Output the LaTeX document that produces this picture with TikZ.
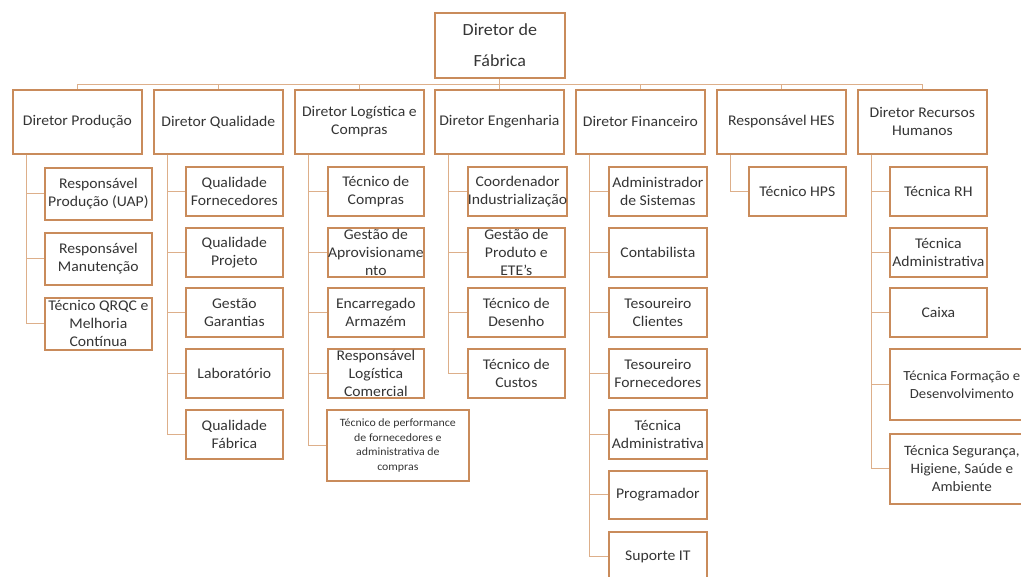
\documentclass[tikz,border=0pt]{standalone}
\usepackage{fontspec}
\setmainfont{Carlito}[FakeStretch=1.06]
\usetikzlibrary{calc}
\definecolor{boxline}{HTML}{C98B5B}
\definecolor{linkline}{HTML}{DDAF8A}
\definecolor{ink}{HTML}{353535}
\begin{document}
\begin{tikzpicture}[x=1pt,y=-1pt,
  box/.style={draw=boxline, line width=1.7pt, fill=white, text=ink, align=center,
    inner sep=0pt, anchor=north west, font=\fontsize{14.8}{18}\selectfont},
  head/.style={box, minimum width=129pt, minimum height=64pt},
  link/.style={draw=linkline, line width=1.2pt},
]
\useasboundingbox (0,0) rectangle (1021,577);
\clip (0,0) rectangle (1021,577);

% top of the hierarchy
\node[box, minimum width=130pt, minimum height=65pt, font=\fontsize{17}{20.5}\selectfont]
  (top) at (434,12) {Diretor de\\[11pt]Fábrica};

% directors
\node[head] (p1) at (12,89)  {Diretor Produção};
\node[head] (p2) at (153,89) {Diretor Qualidade};
\node[head] (p3) at (294,89) {Diretor Logística e\\Compras};
\node[head] (p4) at (434,89) {Diretor Engenharia};
\node[head] (p5) at (575,89) {Diretor Financeiro};
\node[head] (p6) at (716,89) {Responsável HES};
\node[head] (p7) at (857,89) {Diretor Recursos\\Humanos};

% production
\node[box, minimum width=107pt, minimum height=52pt] (a1) at (44,167) {Responsável\\Produção (UAP)};
\node[box, minimum width=107pt, minimum height=52pt] (a2) at (44,232) {Responsável\\Manutenção};
\node[box, minimum width=107pt, minimum height=52pt] (a3) at (44,297) {Técnico QRQC e\\Melhoria\\Contínua};

% quality
\node[box, minimum width=97pt, minimum height=49pt] (b1) at (185,166) {Qualidade\\Fornecedores};
\node[box, minimum width=97pt, minimum height=49pt] (b2) at (185,227) {Qualidade\\Projeto};
\node[box, minimum width=97pt, minimum height=49pt] (b3) at (185,287) {Gestão\\Garantias};
\node[box, minimum width=97pt, minimum height=49pt] (b4) at (185,348) {Laboratório};
\node[box, minimum width=97pt, minimum height=49pt] (b5) at (185,409) {Qualidade\\Fábrica};

% logistics and purchasing
\node[box, minimum width=96pt, minimum height=49pt] (c1) at (327,166) {Técnico de\\Compras};
\node[box, minimum width=96pt, minimum height=49pt] (c2) at (327,227) {Gestão de\\Aprovisioname\\nto};
\node[box, minimum width=96pt, minimum height=49pt] (c3) at (327,287) {Encarregado\\Armazém};
\node[box, minimum width=96pt, minimum height=49pt] (c4) at (327,348) {Responsável\\Logística\\Comercial};
\node[box, minimum width=142pt, minimum height=71pt, font=\fontsize{11.2}{14.6}\selectfont]
  (c5) at (326,409) {Técnico de performance\\de fornecedores e\\administrativa de\\compras};

% engineering
\node[box, minimum width=97pt, minimum height=49pt] (d1) at (467,166) {Coordenador\\Industrialização};
\node[box, minimum width=97pt, minimum height=49pt] (d2) at (467,227) {Gestão de\\Produto e\\ETE's};
\node[box, minimum width=97pt, minimum height=49pt] (d3) at (467,287) {Técnico de\\Desenho};
\node[box, minimum width=97pt, minimum height=49pt] (d4) at (467,348) {Técnico de\\Custos};

% finance
\node[box, minimum width=98pt, minimum height=49pt] (e1) at (608,166) {Administrador\\de Sistemas};
\node[box, minimum width=98pt, minimum height=49pt] (e2) at (608,227) {Contabilista};
\node[box, minimum width=98pt, minimum height=49pt] (e3) at (608,287) {Tesoureiro\\Clientes};
\node[box, minimum width=98pt, minimum height=49pt] (e4) at (608,348) {Tesoureiro\\Fornecedores};
\node[box, minimum width=98pt, minimum height=49pt] (e5) at (608,409) {Técnica\\Administrativa};
\node[box, minimum width=98pt, minimum height=48pt] (e6) at (608,470) {Programador};
\node[box, minimum width=98pt, minimum height=50pt] (e7) at (608,531) {Suporte IT};

% HES
\node[box, minimum width=97pt, minimum height=49pt] (f1) at (748,166) {Técnico HPS};

% human resources
\node[box, minimum width=97pt, minimum height=49pt] (g1) at (889,166) {Técnica RH};
\node[box, minimum width=97pt, minimum height=49pt] (g2) at (889,227) {Técnica\\Administrativa};
\node[box, minimum width=97pt, minimum height=49pt] (g3) at (889,287) {Caixa};
\node[box, minimum width=144pt, minimum height=71pt, font=\fontsize{13.9}{18}\selectfont]
  (g4) at (889,348) {Técnica Formação e\\Desenvolvimento};
\node[box, minimum width=144pt, minimum height=70pt, font=\fontsize{14.3}{18}\selectfont]
  (g5) at (889,433) {Técnica Segurança,\\Higiene, Saúde e\\Ambiente};

% bus from the top box to the directors
\coordinate (bus) at ($(top.south)+(0,6)$);
\draw[link] (top.south) -- (bus);
\foreach \p in {p1,p2,p3,p4,p5,p6,p7}
  \draw[link] (bus) -| (\p.north);

% spines under each director
\foreach \p/\kids in {p1/{a1,a2,a3}, p2/{b1,b2,b3,b4,b5}, p3/{c1,c2,c3,c4,c5},
                      p4/{d1,d2,d3,d4}, p5/{e1,e2,e3,e4,e5,e6,e7}, p6/{f1},
                      p7/{g1,g2,g3,g4,g5}}{
  \coordinate (s\p) at ($(\p.south west)+(14.5,0)$);
  \foreach \k in \kids
    \draw[link] (s\p) |- (\k.west);
}
\end{tikzpicture}
\end{document}
